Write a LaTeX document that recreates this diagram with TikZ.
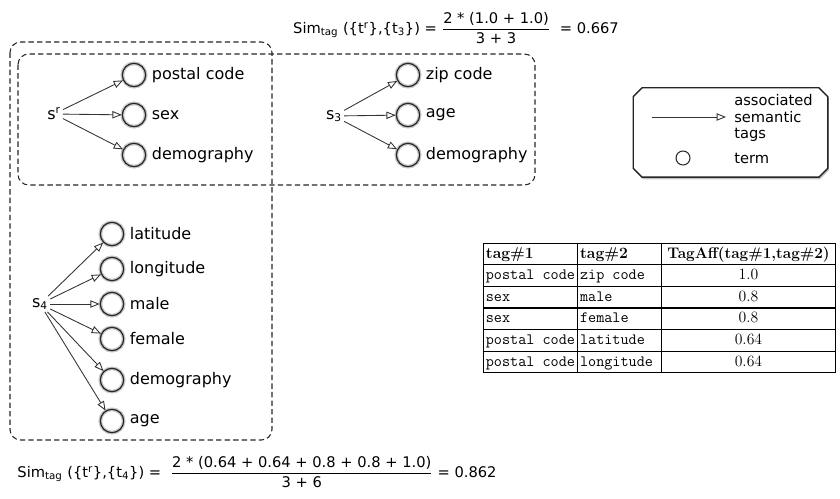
\documentclass[tikz,border=0pt]{standalone}
\usepackage{amsmath}
\usepackage{array}
\usepackage{fontspec}
\newfontfamily\lucida{DejaVu Sans}
\usetikzlibrary{positioning,calc,arrows.meta,shapes.misc,shadows}

\begin{document}
\begin{tikzpicture}[x=0.75pt,y=-0.75pt,font=\lucida\fontsize{12}{14}\selectfont]
\tikzset{
  term/.style={circle, draw=black!85, line width=0.9pt, minimum size=17.5pt, inner sep=0pt,
    preaction={draw=black!22, line width=2.8pt}},
  lbl/.style={anchor=west, inner sep=1pt},
  src/.style={inner sep=1.5pt},
  tagarr/.style={-{Triangle[open,length=7pt,width=5.5pt]}, draw=black!80, line width=0.65pt},
  grp/.style={draw=black!85, dash pattern=on 4pt off 2.4pt, line width=0.8pt, rounded corners=8pt},
  legbox/.style={chamfered rectangle, chamfered rectangle xsep=6pt, chamfered rectangle ysep=6pt,
    draw=black!85, line width=1pt, fill=white, minimum width=146pt, minimum height=67pt,
    drop shadow={shadow xshift=0.8pt, shadow yshift=-1.6pt, fill=black!45}},
  simf/.style={font=\lucida\fontsize{11}{13}\selectfont}
}
\useasboundingbox (0,0) rectangle (840,499);
% similarity formulas
\node[simf] (simtop) at (456,28)
  {Sim$_{\text{tag}}$ (\{t$^{\text{r}}$\},\{t$_{\text{3}}$\}) = $\dfrac{\text{2 * (1.0 + 1.0)}}{\text{3 + 3}}$ \ = 0.667};
\node[simf] (simbot) at (257,472)
  {Sim$_{\text{tag}}$ (\{t$^{\text{r}}$\},\{t$_{\text{4}}$\}) = \ $\dfrac{\text{2 * (0.64 + 0.64 + 0.8 + 0.8 + 1.0)}}{\text{3 + 6}}$ = 0.862};
% groups
\draw[grp] (10,42) rectangle (272,440);
\draw[grp] (18,54) rectangle (535,185);
% s^r
\node[src] (sr) at (54,114) {s$^{\text{r}}$};
\node[term] (pc) at (134,75) {};
\node[term] (sx) at (134,115) {};
\node[term] (dm) at (134,155) {};
\node[lbl, right=3pt of pc] (pclbl) {postal code};
\node[lbl, right=3pt of sx] (sxlbl) {sex};
\node[lbl, right=3pt of dm] (dmlbl) {demography};
\draw[tagarr] (sr) -- (pc);
\draw[tagarr] (sr) -- (sx);
\draw[tagarr] (sr) -- (dm);
% s_3
\node[src] (sthree) at (334,116) {s$_{\text{3}}$};
\node[term] (zc) at (408,75) {};
\node[term] (ag) at (408,115) {};
\node[term] (dmt) at (408,155) {};
\node[lbl, right=3pt of zc] (zclbl) {zip code};
\node[lbl, right=3pt of ag] (aglbl) {age};
\node[lbl, right=3pt of dmt] (dmtlbl) {demography};
\draw[tagarr] (sthree) -- (zc);
\draw[tagarr] (sthree) -- (ag);
\draw[tagarr] (sthree) -- (dmt);
% s_4
\node[src] (sfour) at (40,304) {s$_{\text{4}}$};
\node[term] (la) at (112,234) {};
\node[term] (lo) at (112,269) {};
\node[term] (ma) at (112,304) {};
\node[term] (fe) at (112,339) {};
\node[term] (de) at (112,380) {};
\node[term] (agf) at (112,421) {};
\node[lbl, right=3pt of la] (lalbl) {latitude};
\node[lbl, right=3pt of lo] (lolbl) {longitude};
\node[lbl, right=3pt of ma] (malbl) {male};
\node[lbl, right=3pt of fe] (felbl) {female};
\node[lbl, right=3pt of de] (delbl) {demography};
\node[lbl, right=3pt of agf] (agflbl) {age};
\draw[tagarr] (sfour) -- (la);
\draw[tagarr] (sfour) -- (lo);
\draw[tagarr] (sfour) -- (ma);
\draw[tagarr] (sfour) -- (fe);
\draw[tagarr] (sfour) -- (de);
\draw[tagarr] (sfour) -- (agf);
% legend
\node[legbox] (leg) at (730.5,132.5) {};
\coordinate (legfrom) at (652,117);
\coordinate (legto) at (726,117);
\draw[tagarr] (legfrom) -- (legto);
\node[anchor=west, align=left, inner sep=0pt, font=\lucida\fontsize{11}{12.4}\selectfont] (legtxt) at (734,118)
  {associated\\semantic\\tags};
\node[circle, draw=black!85, line width=0.8pt, minimum size=10.5pt, inner sep=0pt] (legterm) at (683,158) {};
\node[anchor=west, inner sep=0pt, font=\lucida\fontsize{11}{12.4}\selectfont] (legtermlbl) at (734,158) {term};
% affinity table
\node[inner sep=0pt, font=\rmfamily\fontsize{11.8}{15.4}\selectfont] (aff) at (659.5,308)
{\setlength{\tabcolsep}{1.5pt}\setlength{\arrayrulewidth}{0.8pt}%
\begin{tabular}{|l|p{59pt}|>{\centering\arraybackslash}p{127pt}|}
\hline
\textbf{tag\#1} & \textbf{tag\#2} & \textbf{\fontsize{11.5}{15.4}\selectfont TagAff(tag\#1,tag\#2)}\\ \hline
\texttt{postal code} & \texttt{zip code} & 1.0\\ \hline
\texttt{sex} & \texttt{male} & 0.8\\ \hline
\texttt{sex} & \texttt{female} & 0.8\\ \hline
\texttt{postal code} & \texttt{latitude} & 0.64\\ \hline
\texttt{postal code} & \texttt{longitude} & 0.64\\ \hline
\end{tabular}};
\end{tikzpicture}
\end{document}
